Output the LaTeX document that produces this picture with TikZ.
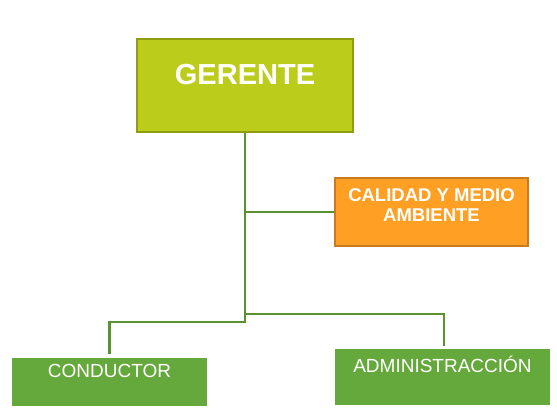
\documentclass[tikz,border=0pt]{standalone}
\usepackage{fontspec}
\setmainfont{Liberation Sans}
\usetikzlibrary{calc}
\definecolor{gerfill}{HTML}{BCCC1A}
\definecolor{gerline}{HTML}{8F9D10}
\definecolor{calfill}{HTML}{FFA024}
\definecolor{calline}{HTML}{C87C1C}
\definecolor{depfill}{HTML}{65A83B}
\definecolor{linkcol}{HTML}{5B9131}

\begin{document}
\begin{tikzpicture}[x=1pt, y=1pt,
  box/.style = {rectangle, inner sep=0pt, text=white, align=center},
  link/.style = {draw=linkcol, line width=2.5pt}]
\useasboundingbox (0,0) rectangle (557,409);
% cajas
\node[box, fill=gerfill, draw=gerline, line width=2.5pt, minimum width=216pt,
  text height=46pt, text depth=47pt, anchor=base,
  font=\fontsize{29}{29}\selectfont\bfseries] (ger) at (245,324) {GERENTE};
\node[box, fill=calfill, draw=calline, line width=2pt, minimum width=193pt,
  text height=44pt, text depth=24pt, anchor=base,
  font=\fontsize{18.5}{20}\selectfont\bfseries] (cal) at (431.5,187) {CALIDAD Y MEDIO\\AMBIENTE};
\node[box, fill=depfill, minimum width=195pt,
  text height=20pt, text depth=28pt, anchor=base,
  font=\fontsize{19}{19}\selectfont] (con) at (109.5,31) {CONDUCTOR};
\node[box, fill=depfill, minimum width=215pt,
  text height=24pt, text depth=32pt, anchor=base,
  font=\fontsize{19}{19}\selectfont] (adm) at (442.5,36) {ADMINISTRACCIÓN};
% lineas
\coordinate (j2) at (245,95);
\coordinate (j3) at (245,87);
\draw[link] (ger.south) |- (cal.west);
\draw[link] (ger.south) -- (j3) -| ([yshift=4pt]con.north);
\draw[link] (j2) -| ([xshift=1.5pt, yshift=3pt]adm.north);
\end{tikzpicture}
\end{document}
